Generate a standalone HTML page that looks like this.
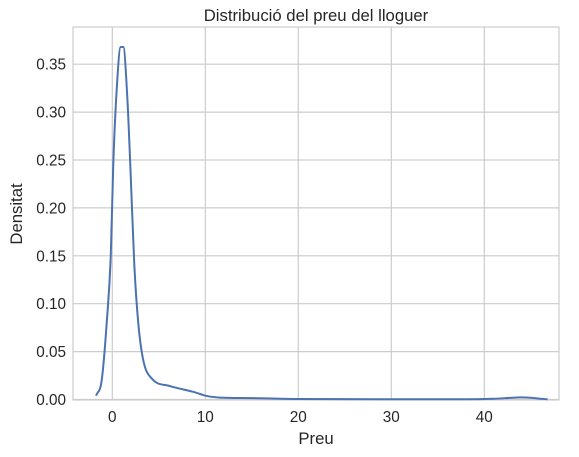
<!DOCTYPE html>
<html><head><meta charset="utf-8"><style>
body{margin:0;background:#fff}
svg{display:block;font-family:"Liberation Sans","DejaVu Sans",sans-serif}
</style></head><body>
<svg id="chart" width="579" height="457">
<rect x="73" y="27" width="486" height="373" fill="#fff"/>
<g id="grid"></g>
<rect x="73" y="27" width="486" height="373" fill="none" stroke="#cccccc" stroke-width="1.2"/>
<g id="marks"></g>
<g id="ticks" font-size="15.3" fill="#262626"></g>
<text x="316" y="21" text-anchor="middle" font-size="16.7" fill="#262626">Distribució del preu del lloguer</text>
<text x="316" y="444" text-anchor="middle" font-size="16.7" fill="#262626">Preu</text>
<text transform="translate(22,214) rotate(-90)" text-anchor="middle" font-size="16.7" fill="#262626">Densitat</text>
</svg>
<script>
const xTicks=[0,10,20,30,40];
const yTicks=[0,0.05,0.10,0.15,0.20,0.25,0.30,0.35];
const yTickLabels=["0.00","0.05","0.10","0.15","0.20","0.25","0.30","0.35"];
const xVals=[-1.75,-1.14,-0.6,-0.17,0.11,0.47,0.9,1.18,1.61,2.0,2.36,2.79,3.33,4.23,6.2,8.7,10.14,11.6,14.8,20,30,38,41,43,44,45,46,46.8];
const yVals=[0.004,0.020,0.080,0.149,0.247,0.323,0.368,0.368,0.316,0.229,0.142,0.080,0.041,0.022,0.014,0.008,0.0037,0.002,0.0015,0.0005,0.0003,0.0003,0.0008,0.0018,0.0022,0.0018,0.0008,0.0003];
const X=v=>112.3+v*9.3, Y=v=>399.5-v*958;
const ns="http://www.w3.org/2000/svg";
const grid=document.getElementById('grid'),ticks=document.getElementById('ticks'),marks=document.getElementById('marks');
function mk(tag,attrs,parent){const e=document.createElementNS(ns,tag);for(const k in attrs)e.setAttribute(k,attrs[k]);parent.appendChild(e);return e;}
xTicks.forEach(t=>{
 const l=mk('line',{x1:X(t),x2:X(t),y1:27,y2:400,stroke:'#cccccc','stroke-width':1.2},grid);
 
 
 const tx=mk('text',{x:X(t),y:422,'text-anchor':'middle'},ticks);tx.textContent=t;
 
 
});
yTicks.forEach((t,i)=>{
 const l=mk('line',{x1:73,x2:559,y1:Y(t),y2:Y(t),stroke:'#cccccc','stroke-width':1.2},grid);
 
 
 const tx=mk('text',{x:66,y:Y(t)+5.5,'text-anchor':'end'},ticks);tx.textContent=yTickLabels[i];
 
 
});
const px=xVals.map(X), py=yVals.map(Y), n=px.length;
const dl=[],m=[];
for(let i=0;i<n-1;i++)dl.push((py[i+1]-py[i])/(px[i+1]-px[i]));
m[0]=dl[0];m[n-1]=dl[n-2];
for(let i=1;i<n-1;i++){m[i]=(dl[i-1]*dl[i]<=0)?0:(dl[i-1]+dl[i])/2;}
for(let i=0;i<n-1;i++){if(dl[i]===0){m[i]=0;m[i+1]=0;continue;}const a=m[i]/dl[i],b=m[i+1]/dl[i],s=a*a+b*b;if(s>9){const t=3/Math.sqrt(s);m[i]=t*a*dl[i];m[i+1]=t*b*dl[i];}}
let d='M'+px[0]+','+py[0];
for(let i=0;i<n-1;i++){const h=(px[i+1]-px[i])/3;d+=` C${px[i]+h},${py[i]+m[i]*h} ${px[i+1]-h},${py[i+1]-m[i+1]*h} ${px[i+1]},${py[i+1]}`;}
const path=mk('path',{d:d,fill:'none',stroke:'#4c72b0','stroke-width':2,'stroke-linejoin':'round'},marks);


</script>
</body></html>
